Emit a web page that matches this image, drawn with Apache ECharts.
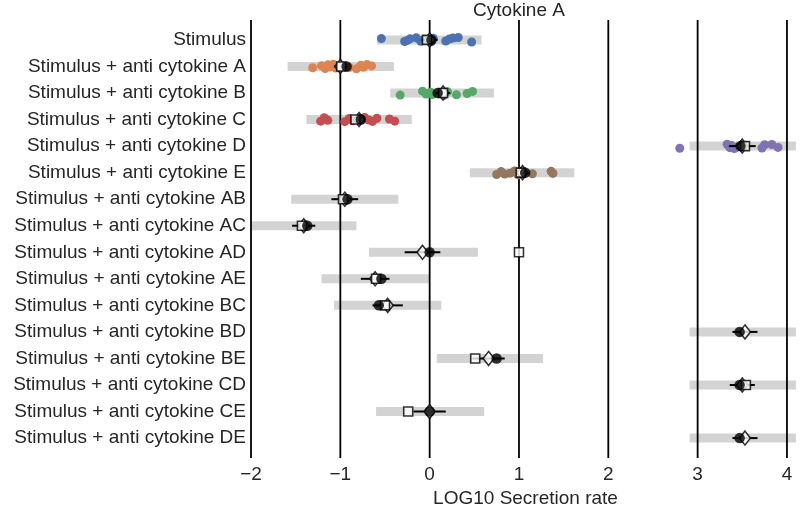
<!DOCTYPE html>
<html>
<head>
<meta charset="utf-8">
<script src="https://cdn.jsdelivr.net/npm/echarts@6/dist/echarts.min.js"></script>
<style>html,body{margin:0;padding:0;background:#fff}#c{width:800px;height:507px}</style>
</head>
<body>
<div id="c"></div>
<script>
// ---- data ----
const categories = [
  'Stimulus',
  'Stimulus + anti cytokine A',
  'Stimulus + anti cytokine B',
  'Stimulus + anti cytokine C',
  'Stimulus + anti cytokine D',
  'Stimulus + anti cytokine E',
  'Stimulus + anti cytokine AB',
  'Stimulus + anti cytokine AC',
  'Stimulus + anti cytokine AD',
  'Stimulus + anti cytokine AE',
  'Stimulus + anti cytokine BC',
  'Stimulus + anti cytokine BD',
  'Stimulus + anti cytokine BE',
  'Stimulus + anti cytokine CD',
  'Stimulus + anti cytokine CE',
  'Stimulus + anti cytokine DE'
];
const xTicks = [-2, -1, 0, 1, 2, 3, 4];

// prediction interval (grey band)
const grayLow  = [-0.59, -1.59, -0.44, -1.38, 2.91, 0.45, -1.55, -2.00, -0.68, -1.21, -1.07, 2.91, 0.08, 2.91, -0.60, 2.91];
const grayHigh = [ 0.58, -0.40,  0.72, -0.20, 4.10, 1.62, -0.35, -0.82,  0.54,  0.00,  0.13, 4.10, 1.27, 4.10,  0.61, 4.10];

// diamond (prediction) with error bar half width
const diamondVals = [0.00, -1.00, 0.15, -0.79, 3.50, 1.04, -0.95, -1.41, -0.08, -0.61, -0.47, 3.53, 0.66, 3.50, 0.00, 3.53];
const errHalf     = [0.09,  0.07, 0.08,  0.06, 0.15, 0.06,  0.15,  0.13,  0.20,  0.16,  0.17, 0.14, 0.18, 0.14, 0.18, 0.14];
// white squares
const squareVals  = [-0.03, -0.99, 0.15, -0.83, 3.53, 1.02, -0.97, -1.43, 1.00, -0.60, -0.50, null, 0.51, 3.54, -0.24, null];
// black circles
const circleVals  = [0.02, -0.93, 0.09, -0.77, 3.48, 1.07, -0.92, -1.37, 0.00, -0.54, -0.57, 3.47, 0.75, 3.47, 0.00, 3.47];

// observed replicates (rows 0..5) and their small vertical jitter (in row units)
const ptsStimulus = [-0.54, -0.28, -0.25, -0.22, -0.15, -0.10, -0.06, 0.02, 0.04, 0.18, 0.22, 0.26, 0.32, 0.47];
const jitStimulus = [-0.05, 0.06, 0.02, -0.04, -0.08, 0.05, -0.02, 0.07, -0.06, 0.04, -0.03, -0.07, -0.09, 0.08];
const ptsA = [-1.31, -1.21, -1.17, -1.14, -1.12, -1.08, -1.05, -0.90, -0.82, -0.77, -0.74, -0.70, -0.65];
const jitA = [0.05, -0.03, 0.08, -0.06, 0.02, -0.08, 0.06, 0.04, 0.09, -0.05, 0.03, -0.07, -0.02];
const ptsB = [-0.33, -0.08, -0.04, 0.01, 0.03, 0.16, 0.20, 0.30, 0.42, 0.48];
const jitB = [0.08, -0.07, 0.04, -0.03, 0.06, 0.09, -0.05, 0.07, 0.02, -0.06];
const ptsC = [-1.22, -1.18, -1.14, -0.95, -0.90, -0.86, -0.73, -0.68, -0.64, -0.59, -0.45, -0.39];
const jitC = [0.06, -0.07, 0.03, 0.08, -0.04, 0.05, -0.08, 0.02, 0.07, -0.05, -0.02, 0.06];
const ptsD = [2.80, 3.33, 3.36, 3.38, 3.41, 3.44, 3.72, 3.75, 3.83, 3.90];
const jitD = [0.08, -0.07, 0.06, -0.02, 0.09, 0.04, 0.07, -0.05, -0.06, 0.05];
const ptsE = [0.75, 0.80, 0.84, 0.90, 0.95, 0.99, 1.02, 1.15, 1.36, 1.38];
const jitE = [0.07, -0.04, 0.05, 0.02, -0.06, 0.08, -0.03, 0.04, -0.05, 0.03];
const pointGroups = [ptsStimulus, ptsA, ptsB, ptsC, ptsD, ptsE];
const jitterGroups = [jitStimulus, jitA, jitB, jitC, jitD, jitE];
const pointColors = ['#4c72b0', '#dd8452', '#55a868', '#c44e52', '#8172b3', '#937860'];

// ---- chart ----
const FONT = "'Liberation Sans', Arial, sans-serif";
const TXT = '#262626';
const FS = 19;
const fmtMinus = v => (v < 0 ? '\u2212' + Math.abs(v) : String(v));

const chart = echarts.init(document.getElementById('c'), null, {renderer: 'canvas'});

const series = [];
// grey bands
series.push({
  type: 'custom', z: 1, silent: true,
  data: grayLow.map((lo, i) => [lo, grayHigh[i], i]),
  encode: {x: [0, 1], y: 2},
  renderItem: (params, api) => {
    const a = api.coord([api.value(0), api.value(2)]);
    const b = api.coord([api.value(1), api.value(2)]);
    const h = 9;
    return {type: 'rect', shape: {x: a[0], y: a[1] - h / 2, width: b[0] - a[0], height: h}, style: {fill: '#d3d3d3'}};
  }
});
// vertical reference lines
series.push({
  type: 'custom', z: 2, silent: true,
  data: xTicks.map(v => [v, 0]),
  encode: {x: 0, y: 1},
  renderItem: (params, api) => {
    const cs = params.coordSys;
    const p = api.coord([api.value(0), 0]);
    return {type: 'line', shape: {x1: p[0], y1: cs.y, x2: p[0], y2: cs.y + cs.height}, style: {stroke: '#000', lineWidth: 1.8}};
  }
});
// replicate points
pointGroups.forEach((arr, gi) => {
  series.push({
    type: 'scatter', z: 3, silent: true, symbol: 'circle', symbolSize: 9,
    itemStyle: {color: pointColors[gi], opacity: 1},
    data: arr.map((v, k) => [v, gi + jitterGroups[gi][k]])
  });
});
// error bars
series.push({
  type: 'custom', z: 4, silent: true,
  data: diamondVals.map((d, i) => [d - errHalf[i], d + errHalf[i], i]),
  encode: {x: [0, 1], y: 2},
  renderItem: (params, api) => {
    const a = api.coord([api.value(0), api.value(2)]);
    const b = api.coord([api.value(1), api.value(2)]);
    return {type: 'line', shape: {x1: a[0], y1: a[1], x2: b[0], y2: b[1]}, style: {stroke: '#000', lineWidth: 2}};
  }
});
// diamonds
series.push({
  type: 'scatter', z: 5, silent: true, symbol: 'diamond', symbolSize: [11, 14],
  itemStyle: {color: '#fff', borderColor: '#000', borderWidth: 1.6},
  data: diamondVals.map((v, i) => [v, i])
});
// squares
series.push({
  type: 'scatter', z: 6, silent: true, symbol: 'rect', symbolSize: 9,
  itemStyle: {color: '#fff', borderColor: '#000', borderWidth: 1.6},
  data: squareVals.map((v, i) => [v, i]).filter(p => p[0] !== null)
});
// circles
series.push({
  type: 'scatter', z: 7, silent: true, symbol: 'circle', symbolSize: 10.5,
  itemStyle: {color: '#000'},
  data: circleVals.map((v, i) => [v, i])
});

chart.setOption({
  animation: false,
  backgroundColor: '#fff',
  textStyle: {fontFamily: FONT},
  graphic: [{
    type: 'text', x: 519, y: 11,
    style: {text: 'Cytokine A', font: FS + "px 'Liberation Sans', Arial, sans-serif", fill: TXT, textAlign: 'center', textVerticalAlign: 'middle'}
  }],
  grid: {left: 251, right: 0, top: 20, bottom: 49, containLabel: false, outerBoundsMode: 'none'},
  xAxis: {
    type: 'value', min: -2, max: 4.146,
    axisLine: {show: false}, axisTick: {show: false}, splitLine: {show: false},
    axisLabel: {customValues: xTicks, formatter: fmtMinus, fontSize: FS, color: TXT, fontFamily: FONT, margin: 7},
    name: 'LOG10 Secretion rate', nameLocation: 'middle', nameGap: 28,
    nameTextStyle: {fontSize: FS, color: TXT, fontFamily: FONT, verticalAlign: 'top'}
  },
  yAxis: {
    type: 'value', inverse: true, min: -0.75, max: 15.75,
    axisLine: {show: false}, axisTick: {show: false}, splitLine: {show: false},
    axisLabel: {customValues: categories.map((c, i) => i), formatter: v => categories[v] || '', fontSize: FS, color: TXT, fontFamily: FONT, margin: 5}
  },
  series: series
});
</script>
</body>
</html>
